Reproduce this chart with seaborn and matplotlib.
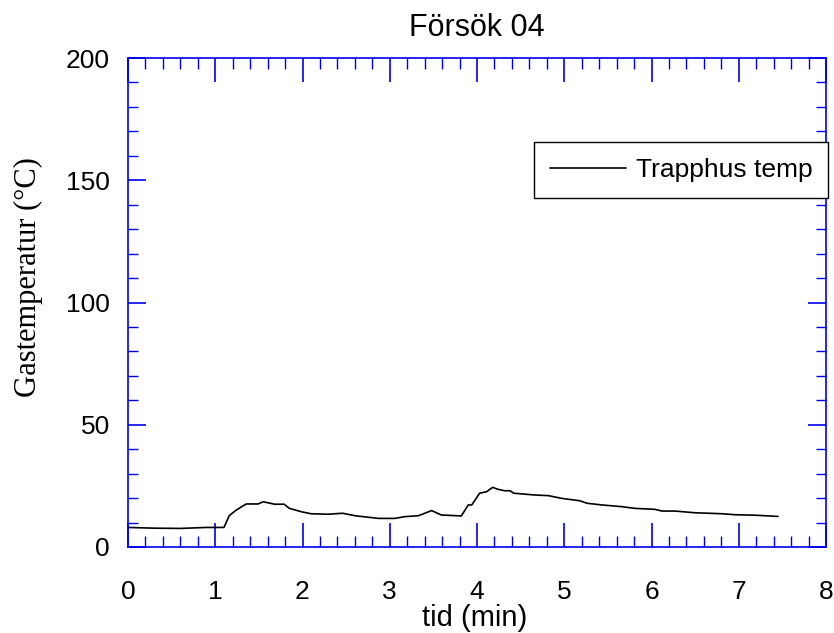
import matplotlib
matplotlib.use("Agg")
import matplotlib.pyplot as plt
import seaborn as sns
import pandas as pd
from matplotlib.ticker import MultipleLocator

# Data
tid_min = [0.0, 0.3, 0.6, 0.9, 1.1, 1.16, 1.24, 1.355, 1.49, 1.55, 1.68, 1.79, 1.85,
           1.99, 2.1, 2.29, 2.46, 2.6, 2.87, 3.06, 3.17, 3.33, 3.48, 3.59, 3.82,
           3.9, 3.94, 4.03, 4.11, 4.18, 4.24, 4.32, 4.38, 4.42, 4.65, 4.82, 4.97,
           5.18, 5.26, 5.43, 5.66, 5.81, 6.04, 6.12, 6.27, 6.5, 6.81, 6.96, 7.19, 7.45]
trapphus_temp = [8.0, 7.7, 7.6, 8.0, 8.0, 12.8, 15.1, 17.6, 17.6, 18.5, 17.5, 17.5, 15.8,
                 14.4, 13.6, 13.4, 13.8, 12.8, 11.7, 11.7, 12.4, 12.8, 14.9, 13.1, 12.7,
                 17.2, 17.2, 22.0, 22.6, 24.4, 23.6, 23.0, 23.0, 22.0, 21.3, 21.0, 19.9,
                 18.9, 17.9, 17.2, 16.5, 15.8, 15.4, 14.7, 14.7, 14.0, 13.6, 13.2, 13.0, 12.5]
series_name = "Trapphus temp"
title = "Försök 04"
xlabel = "tid (min)"
ylabel = "Gastemperatur (°C)"

sns.set_theme(style="white")
plt.rcParams['font.family'] = ['Liberation Sans', 'DejaVu Sans']
plt.rcParams['text.color'] = 'black'
plt.rcParams['axes.labelcolor'] = 'black'
plt.rcParams['xtick.labelcolor'] = 'black'
plt.rcParams['ytick.labelcolor'] = 'black'

df = pd.DataFrame({"t": tid_min, "T": trapphus_temp, "serie": series_name})

fig = plt.figure(figsize=(8.34, 6.33), dpi=100)
ax = fig.add_axes([128 / 834, 86 / 633, 698 / 834, 489 / 633])

sns.lineplot(data=df, x="t", y="T", hue="serie", palette=["black"], linewidth=1.2, ax=ax)

ax.set_xlim(0, 8)
ax.set_ylim(0, 200)
ax.xaxis.set_major_locator(MultipleLocator(1))
ax.xaxis.set_minor_locator(MultipleLocator(0.2))
ax.yaxis.set_major_locator(MultipleLocator(50))
ax.yaxis.set_minor_locator(MultipleLocator(10))

blue = "#0000ee"
for s in ax.spines.values():
    s.set_color(blue)
    s.set_linewidth(1.2)
ax.tick_params(axis='x', which='major', direction='in', length=17, width=1.2, color=blue,
               labelcolor='black', top=True, bottom=True, labelsize=19, pad=24)
ax.tick_params(axis='x', which='minor', direction='in', length=8, width=1.0, color=blue,
               top=True, bottom=True)
ax.tick_params(axis='y', which='major', direction='in', length=13, width=1.2, color=blue,
               labelcolor='black', left=True, right=True, labelsize=19, pad=13)
ax.tick_params(axis='y', which='minor', direction='in', length=7, width=1.0, color=blue,
               left=True, right=True)

ax.set_title(title, fontsize=22, pad=16, color='black')
ax.set_xlabel(xlabel, fontsize=21, color='black')
ax.xaxis.set_label_coords(0.497, -0.116)
ax.xaxis.label.set_va('top')
ax.set_ylabel(ylabel, fontsize=22, family=['Liberation Serif', 'DejaVu Serif'], color='black')
ax.yaxis.set_label_coords(-0.122, 0.552)

leg = ax.legend(loc='upper right', bbox_to_anchor=(1.003, 0.828), fontsize=19,
                frameon=True, fancybox=False, edgecolor='black', framealpha=1,
                handlelength=2.9, handletextpad=0.35, borderpad=0.6, borderaxespad=0,
                title=None)
leg.get_frame().set_linewidth(1.0)
for txt in leg.get_texts():
    txt.set_color('black')

fig.savefig("out.png", dpi=100)
